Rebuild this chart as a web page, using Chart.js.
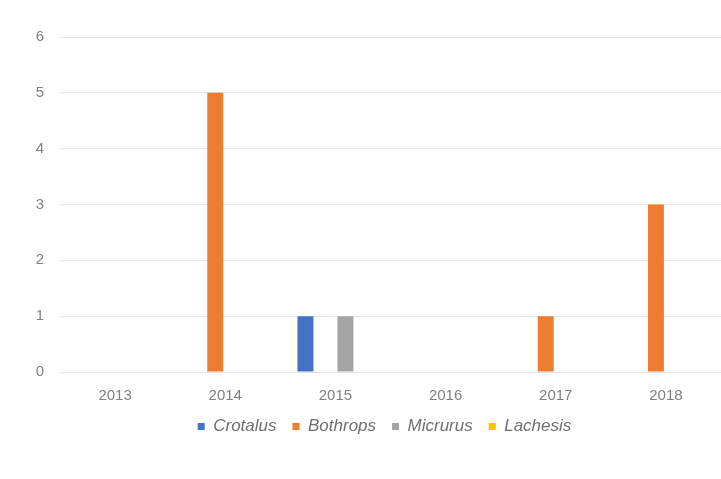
<!DOCTYPE html>
<html>
<head>
<meta charset="utf-8">
<script src="https://cdn.jsdelivr.net/npm/chart.js@4"></script>
<style>
    html, body { margin: 0; padding: 0; background: #ffffff; }
    #wrap { width: 721px; height: 479px; position: relative; }
</style>
</head>
<body>
<div id="wrap"><canvas id="snakeChart"></canvas></div>
<script>
const years = ['2013', '2014', '2015', '2016', '2017', '2018'];
const crotalus = [0, 0, 1, 0, 0, 0];
const bothrops = [0, 5, 0, 0, 1, 3];
const micrurus = [0, 0, 1, 0, 0, 0];
const lachesis = [0, 0, 0, 0, 0, 0];

const tickColor = '#808080';
const gridColor = '#e4e4e4';

// legend sits centred under the plot area, not the whole canvas
const shiftLegend = {
    id: 'shiftLegend',
    afterLayout(chart) {
        chart.legend.left += 24;
        chart.legend.right += 24;
    }
};

const ctx = document.getElementById('snakeChart').getContext('2d');
new Chart(ctx, {
    type: 'bar',
    data: {
        labels: years,
        datasets: [
            { label: 'Crotalus', data: crotalus, backgroundColor: '#4472C4' },
            { label: 'Bothrops', data: bothrops, backgroundColor: '#ED7D31' },
            { label: 'Micrurus', data: micrurus, backgroundColor: '#A5A5A5' },
            { label: 'Lachesis', data: lachesis, backgroundColor: '#FFC000' }
        ]
    },
    options: {
        responsive: true,
        maintainAspectRatio: false,
        animation: false,
        barPercentage: 0.8,
        categoryPercentage: 0.725,
        layout: { padding: { left: 0, right: 0, top: 37, bottom: 34 } },
        plugins: {
            tooltip: { enabled: false },
            legend: {
                position: 'bottom',
                labels: {
                    boxWidth: 7,
                    boxHeight: 7,
                    padding: 16,
                    color: '#707070',
                    font: { family: 'Liberation Sans', size: 17, style: 'italic' }
                }
            }
        },
        scales: {
            x: {
                grid: { display: false },
                border: { display: false },
                ticks: {
                    color: tickColor,
                    padding: 7,
                    font: { family: 'Liberation Sans', size: 15 }
                },
                afterFit: scale => { scale.height = 30; }
            },
            y: {
                min: 0,
                max: 6,
                grid: { color: gridColor, drawTicks: false },
                border: { display: false },
                ticks: {
                    stepSize: 1,
                    color: tickColor,
                    padding: 16,
                    font: { family: 'Liberation Sans', size: 15 }
                },
                afterFit: scale => { scale.width = 60; }
            }
        }
    },
    plugins: [shiftLegend]
});
</script>
</body>
</html>
